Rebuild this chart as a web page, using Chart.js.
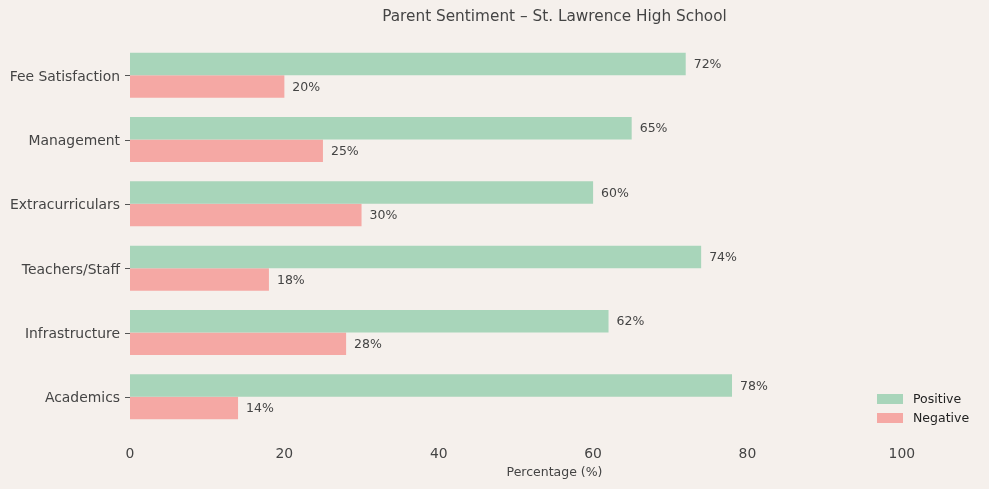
<!DOCTYPE html>
<html>
<head>
<meta charset="utf-8">
<script src="https://cdn.jsdelivr.net/npm/chart.js@4"></script>
<style>
  html, body { margin: 0; padding: 0; background: #f5f0ec; }
  #wrap { width: 989px; height: 489px; }
</style>
</head>
<body>
<div id="wrap"><canvas id="sentiment"></canvas></div>
<script>
const categories = ['Fee Satisfaction', 'Management', 'Extracurriculars', 'Teachers/Staff', 'Infrastructure', 'Academics'];
const positive = [72, 65, 60, 74, 62, 78];
const negative = [20, 25, 30, 18, 28, 14];
const xTicks = [0, 20, 40, 60, 80, 100];

const font = 'DejaVu Sans';

// value labels at the end of each bar
const barLabels = {
  id: 'barLabels',
  afterDatasetsDraw(chart) {
    const c = chart.ctx;
    c.save();
    c.font = '12.5px "' + font + '"';
    c.fillStyle = '#444';
    c.textBaseline = 'middle';
    c.textAlign = 'left';
    chart.data.datasets.forEach((ds, i) => {
      chart.getDatasetMeta(i).data.forEach((bar, j) => {
        c.fillText(ds.data[j] + '%', bar.x + 8, bar.y + 1);
      });
    });
    c.restore();
  }
};

// title, category labels + tick marks, and legend inside bottom right
const extras = {
  id: 'extras',
  afterDraw(chart) {
    const c = chart.ctx;
    const a = chart.chartArea;
    const yScale = chart.scales.y;
    c.save();
    c.font = '15.3px "' + font + '"';
    c.fillStyle = '#444';
    c.textAlign = 'center';
    c.textBaseline = 'middle';
    c.fillText('Parent Sentiment – St. Lawrence High School', (a.left + a.right) / 2, 17);

    c.font = '13.9px "' + font + '"';
    c.textAlign = 'right';
    c.strokeStyle = '#555';
    c.lineWidth = 1;
    categories.forEach((cat, i) => {
      const y = yScale.getPixelForTick(i);
      c.fillText(cat, 120, y + 2);
      c.beginPath();
      c.moveTo(a.left - 5, Math.round(y) + 0.5);
      c.lineTo(a.left, Math.round(y) + 0.5);
      c.stroke();
    });

    c.font = '12.5px "' + font + '"';
    c.textAlign = 'left';
    chart.data.datasets.forEach((ds, i) => {
      const y = 399 + i * 19;
      c.fillStyle = ds.backgroundColor;
      c.fillRect(877, y - 5, 26, 10);
      c.fillStyle = '#222';
      c.fillText(ds.label, 913, y + 1);
    });
    c.restore();
  }
};

new Chart(document.getElementById('sentiment'), {
  type: 'bar',
  data: {
    labels: categories,
    datasets: [{
      label: 'Positive',
      data: positive,
      backgroundColor: '#a8d5ba',
      borderWidth: 0,
      categoryPercentage: 0.7,
      barPercentage: 1
    }, {
      label: 'Negative',
      data: negative,
      backgroundColor: '#f5a8a4',
      borderWidth: 0,
      categoryPercentage: 0.7,
      barPercentage: 1
    }]
  },
  options: {
    indexAxis: 'y',
    responsive: true,
    maintainAspectRatio: false,
    animation: false,
    layout: {
      padding: { top: 43, right: 10, bottom: 5, left: 0 }
    },
    plugins: {
      legend: { display: false },
      title: { display: false },
      tooltip: { enabled: false }
    },
    scales: {
      x: {
        min: 0,
        max: 110,
        afterBuildTicks(scale) {
          scale.ticks = xTicks.map(v => ({ value: v }));
        },
        afterFit(scale) { scale.height = 55; },
        grid: { display: false, drawTicks: false },
        border: { display: false },
        ticks: {
          padding: 17,
          color: '#444',
          font: { family: font, size: 13.9 }
        },
        title: {
          display: true,
          text: 'Percentage (%)',
          color: '#444',
          font: { family: font, size: 12.5 }
        }
      },
      y: {
        afterFit(scale) { scale.width = 130; },
        grid: { display: false },
        border: { display: false },
        ticks: {
          padding: 4,
          color: 'rgba(0,0,0,0)',
          font: { family: font, size: 13.9 }
        }
      }
    }
  },
  plugins: [barLabels, extras]
});
</script>
</body>
</html>
